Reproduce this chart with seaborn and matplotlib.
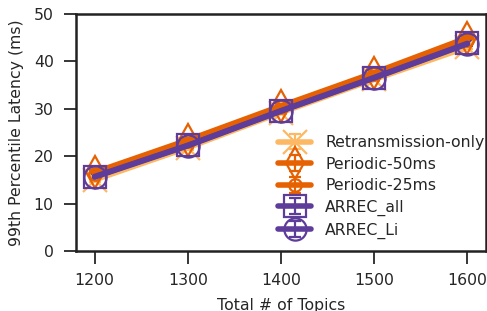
import seaborn as sns
import matplotlib.pyplot as plt
import matplotlib

matplotlib.use('Agg')

# данные
topics = [1200, 1300, 1400, 1500, 1600]
retrans_only = [15.0, 21.8, 29.2, 36.2, 43.0]
periodic_50 = [16.6, 23.4, 30.6, 37.6, 45.0]
periodic_25 = [16.3, 23.1, 30.3, 37.3, 44.6]
arrec_all = [15.7, 22.3, 29.6, 36.6, 43.8]
arrec_li = [15.6, 22.2, 29.5, 36.5, 43.7]
err = [0.4, 0.4, 0.4, 0.4, 0.4]

# имя, значения, цвет, маркер, размер маркера
series = [
    ('Retransmission-only', retrans_only, '#fdb863', 'x', 17),
    ('Periodic-50ms', periodic_50, '#e66101', 'd', 16),
    ('Periodic-25ms', periodic_25, '#e66101', 'o', 9),
    ('ARREC_all', arrec_all, '#5e3c99', 's', 16),
    ('ARREC_Li', arrec_li, '#5e3c99', 'o', 16),
]

sns.set_theme(style="ticks")
plt.rcParams['font.family'] = ['DejaVu Sans']

fig = plt.figure(figsize=(4.87, 3.11), dpi=100)
ax = fig.add_axes([0.156, 0.193, 0.842, 0.762])

for name, vals, color, marker, ms in series:
    ax.errorbar(topics, vals, yerr=err, color=color, marker=marker,
                markersize=ms, markerfacecolor='none', markeredgewidth=1.6,
                linewidth=4, capsize=4, elinewidth=1.6, label=name)

ax.set_xlim(1180, 1620)
ax.set_ylim(0, 50)
ax.set_xticks([1200, 1300, 1400, 1500, 1600])
ax.set_yticks([0, 10, 20, 30, 40, 50])
ax.set_xlabel('Total # of Topics', fontsize=11.3, labelpad=7)
ax.set_ylabel('99th Percentile Latency (ms)', fontsize=11.3, labelpad=7)
ax.tick_params(labelsize=11.3, length=9, width=1.3, pad=7)
for s in ax.spines.values():
    s.set_linewidth(1.8)
    s.set_color('#222222')

ax.legend(loc='lower right', frameon=False, fontsize=11.3,
          handlelength=2.1, handletextpad=0.9, labelspacing=0.42,
          borderaxespad=0.0, bbox_to_anchor=(1.012, 0.025))

fig.savefig('out.png', dpi=100)
